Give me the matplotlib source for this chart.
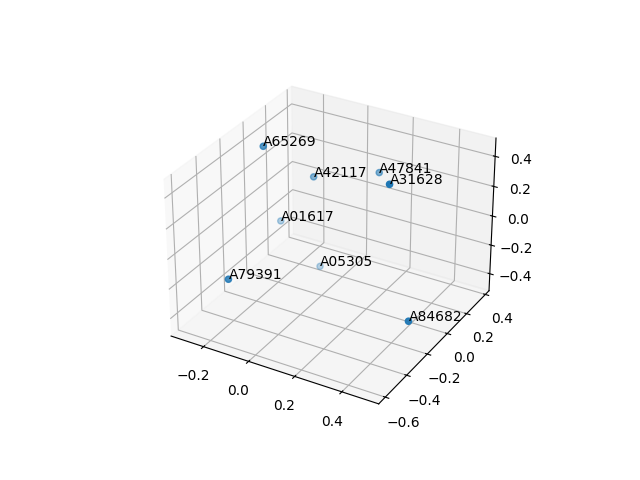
import matplotlib
matplotlib.use("Agg")
import matplotlib.pyplot as plt

labels = ["A65269", "A42117", "A47841", "A31628", "A01617", "A05305", "A79391", "A84682"]
xs = [-0.193, -0.092, 0.134, 0.342, -0.252, -0.089, -0.149, 0.509]
ys = [-0.125, 0.12, 0.26, -0.11, 0.135, 0.17, -0.53, -0.29]
zs = [0.488, 0.185, 0.225, 0.452, -0.196, -0.467, -0.125, -0.255]

fig = plt.figure(figsize=(6.4, 4.8), dpi=100)
ax = fig.add_subplot(projection="3d")
ax.scatter(xs, ys, zs)
for x, y, z, s in zip(xs, ys, zs, labels):
    ax.text(x, y, z, s)
ax.set_xlim(-0.347, 0.553)
ax.set_ylim(-0.66, 0.44)
ax.set_zlim(-0.52, 0.52)
fig.savefig("out.png", dpi=100)
